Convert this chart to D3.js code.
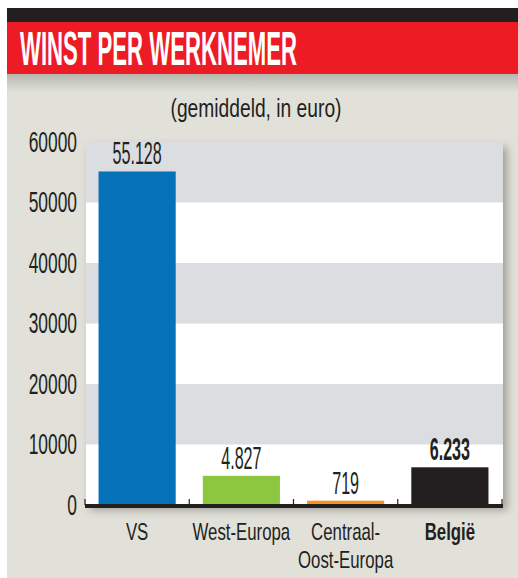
<!DOCTYPE html>
<html>
<head>
<meta charset="utf-8">
<script src="https://cdn.jsdelivr.net/npm/d3@7"></script>
<style>
  body { margin: 0; background: #fff; }
  svg { display: block; }
  text { font-family: "Liberation Sans", Arial, sans-serif; fill: #231f20; }
</style>
</head>
<body>
<div class="chart"></div>
<script>
// data
var categories = ["VS", "West-Europa", "Centraal-Oost-Europa", "België"];
var catLines = [["VS"], ["West-Europa"], ["Centraal-", "Oost-Europa"], ["België"]];
var values = [55128, 4827, 719, 6233];
var valueLabels = ["55.128", "4.827", "719", "6.233"];
var barColors = ["#0571b9", "#8dc63f", "#f7941d", "#231f20"];
var yTicks = [0, 10000, 20000, 30000, 40000, 50000, 60000];

var svgWidth = 518, svgHeight = 578;
var margin = { top: 142, right: 16, bottom: 73, left: 85 };
var width = svgWidth - margin.left - margin.right;
var height = svgHeight - margin.top - margin.bottom;

var svg = d3.select(".chart").append("svg")
    .attr("width", svgWidth)
    .attr("height", svgHeight);

var defs = svg.append("defs");
var grad = defs.append("linearGradient").attr("id", "topShade")
    .attr("x1", 0).attr("x2", 0).attr("y1", 0).attr("y2", 1);
grad.append("stop").attr("offset", 0).attr("stop-color", "#b5b6ad");
grad.append("stop").attr("offset", 1).attr("stop-color", "#e1e1d9");

var shadow = defs.append("filter").attr("id", "shadow")
    .attr("x", "-5%").attr("y", "-5%").attr("width", "115%").attr("height", "115%");
shadow.append("feDropShadow").attr("dx", 4).attr("dy", 5)
    .attr("stdDeviation", 4).attr("flood-color", "#000").attr("flood-opacity", 0.3);

// condense text horizontally (narrow newspaper face) by moving x/y into a scaled transform
function squeeze(sel, k) {
    sel.each(function() {
        var t = d3.select(this);
        var tx = +t.attr("x") || 0, ty = +t.attr("y") || 0;
        t.attr("x", 0).attr("y", 0)
            .attr("transform", `translate(${tx},${ty}) scale(${k},1)`);
    });
}

// panel background
svg.append("rect").attr("x", 7).attr("y", 74).attr("width", svgWidth - 7).attr("height", svgHeight - 74)
    .attr("fill", "#e1e1d9");
svg.append("rect").attr("x", 7).attr("y", 74).attr("width", svgWidth - 7).attr("height", 18)
    .attr("fill", "url(#topShade)");

// header
svg.append("rect").attr("x", 7).attr("y", 8).attr("width", svgWidth - 7).attr("height", 14)
    .attr("fill", "#231f20");
svg.append("rect").attr("x", 7).attr("y", 22).attr("width", svgWidth - 7).attr("height", 52)
    .attr("fill", "#ed1c24");
var title = svg.append("text")
    .style("font-size", "48px").style("font-weight", "bold").style("fill", "#fff")
    .text("WINST PER WERKNEMER");
var titleW = title.node().getComputedTextLength();
title.attr("transform", `translate(20,65) scale(${277 / titleW},1)`);

svg.append("text")
    .attr("x", 256).attr("y", 117)
    .attr("text-anchor", "middle")
    .style("font-size", "26px")
    .text("(gemiddeld, in euro)")
    .call(squeeze, 0.74);

var chartGroup = svg.append("g")
    .attr("transform", `translate(${margin.left}, ${margin.top})`);

var x = d3.scaleBand()
    .domain(categories)
    .range([0, width])
    .paddingInner(0.26)
    .paddingOuter(0.13);

var y = d3.scaleLinear()
    .domain([0, 60000])
    .range([height, 0]);

// plot background with alternating bands
chartGroup.append("rect")
    .attr("x", 1).attr("y", 0).attr("width", width).attr("height", height)
    .attr("fill", "#fff")
    .attr("filter", "url(#shadow)");

chartGroup.selectAll(".band")
    .data(yTicks.slice(0, -1))
    .enter()
    .append("rect")
    .attr("x", 1)
    .attr("width", width)
    .attr("y", d => y(d + 10000))
    .attr("height", d => y(d) - y(d + 10000))
    .attr("fill", (d, i) => i % 2 === 1 ? "#dcdde0" : "#fff");

// y axis labels only
var yAxis = d3.axisLeft(y).tickValues(yTicks).tickSize(0).tickPadding(8).tickFormat(d3.format("d"));
var yG = chartGroup.append("g").call(yAxis);
yG.select(".domain").remove();
yG.selectAll("text")
    .style("font-size", "29px")
    .attr("font-family", null)
    .attr("fill", null)
    .call(squeeze, 0.6);

// bars
chartGroup.selectAll(".bar")
    .data(values)
    .enter()
    .append("rect")
    .attr("x", (d, i) => x(categories[i]))
    .attr("width", x.bandwidth())
    .attr("y", d => y(d))
    .attr("height", d => height - y(d))
    .attr("fill", (d, i) => barColors[i]);

// value labels
chartGroup.selectAll(".val")
    .data(values)
    .enter()
    .append("text")
    .attr("x", (d, i) => x(categories[i]) + x.bandwidth() / 2)
    .attr("y", d => y(d) - 7)
    .attr("text-anchor", "middle")
    .style("font-size", "31px")
    .style("font-weight", (d, i) => i === 3 ? "bold" : "normal")
    .text((d, i) => valueLabels[i])
    .call(squeeze, 0.52);

// x axis line and boundary ticks
chartGroup.append("line")
    .attr("x1", 0).attr("x2", width + 1)
    .attr("y1", height + 1).attr("y2", height + 1)
    .attr("stroke", "#231f20").attr("stroke-width", 4);

var step = x.step();
var bounds = categories.map(c => x(c) - step * x.paddingInner() / 2)
    .concat([x(categories[categories.length - 1]) + x.bandwidth() + step * x.paddingInner() / 2]);
chartGroup.selectAll(".tick-mark")
    .data(bounds)
    .enter()
    .append("line")
    .attr("x1", d => d).attr("x2", d => d)
    .attr("y1", height - 6).attr("y2", height)
    .attr("stroke", "#231f20").attr("stroke-width", 1.2);

// category labels, one text per line
var catData = [];
catLines.forEach((lines, i) => lines.forEach((t, j) => catData.push({ t: t, i: i, j: j })));

chartGroup.selectAll(".cat")
    .data(catData)
    .enter()
    .append("text")
    .attr("class", "cat")
    .attr("text-anchor", "middle")
    .style("font-size", "24px")
    .style("font-weight", d => d.i === 3 ? "bold" : "normal")
    .attr("x", d => x(categories[d.i]) + x.bandwidth() / 2)
    .attr("y", d => height + 35 + d.j * 28)
    .text(d => d.t)
    .call(squeeze, 0.7);
</script>
</body>
</html>
